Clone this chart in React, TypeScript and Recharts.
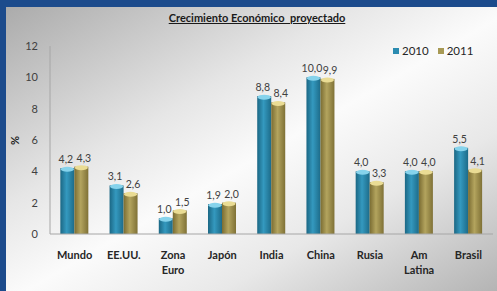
import React from 'react';
import { BarChart, Bar, XAxis, YAxis, LabelList } from 'recharts';

const categories = ['Mundo', 'EE.UU.', 'Zona Euro', 'Japón', 'India', 'China', 'Rusia', 'Am Latina', 'Brasil'];
const values2010 = [4.2, 3.1, 1.0, 1.9, 8.8, 10.0, 4.0, 4.0, 5.5];
const values2011 = [4.3, 2.6, 1.5, 2.0, 8.4, 9.9, 3.3, 4.0, 4.1];
const yTicks = [0, 2, 4, 6, 8, 10, 12];

const data = categories.map((c, i) => ({ name: c, y2010: values2010[i], y2011: values2011[i] }));

const FONT = 'Lato, "Open Sans", sans-serif';

const fmt = (v: any) => Number(v).toFixed(1).replace('.', ',');

const makeShape = (gradId: string, topColor: string) => (props: any) => {
  const { x, y, width, height } = props;
  if (height <= 0) return null;
  return (
    <g>
      <rect x={x} y={y} width={width} height={height} fill={`url(#${gradId})`} />
      <ellipse cx={x + width / 2} cy={y + 1} rx={width / 2 - 0.5} ry={2.5} fill={topColor} />
    </g>
  );
};

const makeLabel = (shift: number) => (props: any) => {
  const { x, y, width, value } = props;
  return (
    <text x={x + width / 2 + shift} y={y - 5} textAnchor="middle" fontFamily={FONT} fontSize={10.5} fill="#404040">
      {fmt(value)}
    </text>
  );
};

const XTick = (props: any) => {
  const { x, y, payload } = props;
  const parts = String(payload.value).split(' ');
  return (
    <text x={x} y={y + 25} textAnchor="middle" fontFamily={FONT} fontSize={11} fontWeight={700} fill="#262626">
      {parts.map((p, i) => (
        <tspan key={i} x={x} dy={i === 0 ? 0 : 15}>{p}</tspan>
      ))}
    </text>
  );
};

export default function App() {
  return (
    <div
      style={{
        position: 'fixed',
        left: 0,
        top: 0,
        width: 497,
        height: 291,
        boxSizing: 'border-box',
        borderLeft: '6px solid #1c4b8c',
        borderTop: '7px solid #1c4b8c',
        background: 'linear-gradient(150deg, #ababab 0%, #e6e6e6 35%, #fbfbfb 52%, #e8e8e8 72%, #b4b4b4 100%)',
        overflow: 'hidden',
      }}
    >
      <div
        style={{
          position: 'absolute',
          left: -6,
          width: 514,
          top: 4,
          textAlign: 'center',
          fontFamily: FONT,
          fontSize: 11,
          fontWeight: 700,
          color: '#1a1a1a',
          textDecoration: 'underline',
          whiteSpace: 'pre',
        }}
      >
        {'Crecimiento Económico  proyectado'}
      </div>
      <div
        style={{
          position: 'absolute',
          left: 4,
          top: 127,
          fontFamily: FONT,
          fontSize: 11,
          fontWeight: 700,
          color: '#262626',
          transform: 'rotate(-90deg)',
        }}
      >
        %
      </div>
      <div
        style={{
          position: 'absolute',
          left: 387,
          top: 37,
          display: 'flex',
          alignItems: 'center',
          fontFamily: FONT,
          fontSize: 11.5,
          color: '#262626',
        }}
      >
        <span style={{ width: 6, height: 6, background: '#2b8bb0', display: 'inline-block', marginRight: 3 }} />
        <span style={{ marginRight: 9 }}>2010</span>
        <span style={{ width: 6, height: 6, background: '#a89a55', display: 'inline-block', marginRight: 3 }} />
        <span>2011</span>
      </div>
      <div style={{ position: 'absolute', left: -6, top: -7, width: 497, height: 291, overflow: 'hidden' }}>
        <BarChart width={497} height={291} data={data} margin={{ top: 46, right: 4, bottom: 0, left: 0 }} barGap={0} barCategoryGap="21%">
          <defs>
            <linearGradient id="g2010" x1="0" y1="0" x2="1" y2="0">
              <stop offset="0%" stopColor="#1b6784" />
              <stop offset="45%" stopColor="#3499bf" />
              <stop offset="100%" stopColor="#1d6b89" />
            </linearGradient>
            <linearGradient id="g2011" x1="0" y1="0" x2="1" y2="0">
              <stop offset="0%" stopColor="#7a6c32" />
              <stop offset="45%" stopColor="#b3a45e" />
              <stop offset="100%" stopColor="#7f7136" />
            </linearGradient>
          </defs>
          <XAxis dataKey="name" height={57} tickLine={false} tickSize={0} tickMargin={0} axisLine={{ stroke: '#a6a6a6' }} tick={<XTick />} interval={0} />
          <YAxis width={50} domain={[0, 12]} ticks={yTicks} tickLine={false} tickSize={0} tickMargin={12} axisLine={{ stroke: '#a6a6a6' }} tick={{ fontFamily: FONT, fontSize: 11, fill: '#404040' }} interval={0} />
          <Bar dataKey="y2010" isAnimationActive={false} shape={makeShape('g2010', '#86d3ec')}>
            <LabelList dataKey="y2010" content={makeLabel(-1.5)} />
          </Bar>
          <Bar dataKey="y2011" isAnimationActive={false} shape={makeShape('g2011', '#eadc94')}>
            <LabelList dataKey="y2011" content={makeLabel(2.5)} />
          </Bar>
        </BarChart>
      </div>
    </div>
  );
}
